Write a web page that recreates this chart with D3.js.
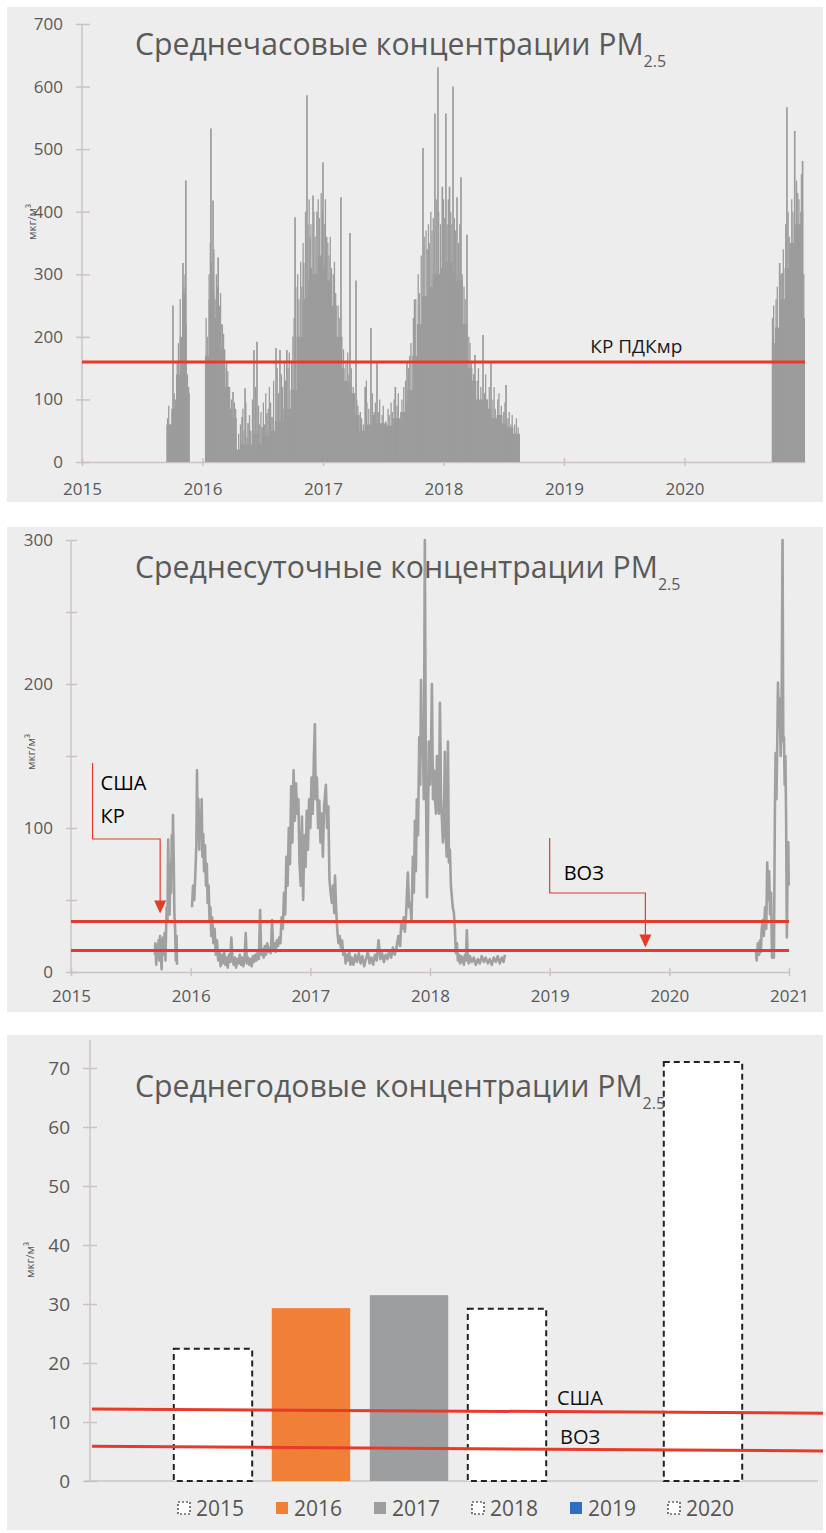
<!DOCTYPE html>
<html lang="ru">
<head>
<meta charset="UTF-8">
<title>PM2.5</title>
<script src="https://d3js.org/d3.v7.min.js"></script>
<style>
  body { margin: 0; background: #fff; }
  svg { display: block; font-family: "Open Sans", "Noto Sans", sans-serif; }
  .axis path, .axis line { stroke: #cbc3c3; stroke-width: 1.5; }
  .axis text { fill: #595959; font-family: "Open Sans", sans-serif; }
</style>
</head>
<body>
<div id="chart"></div>
<script>
// ---- data (decimal year, µg/m3) ----

// hourly: dense part of the signal (null = no data)
var hourlyLevel = [
  [2015.70, 60], [2015.74, 85], [2015.78, 140], [2015.81, 200], [2015.83, 270], [2015.86, 220],
  [2015.87, 110], [2015.895, 110], [2015.896, null],
  [2016.02, 170], [2016.05, 260], [2016.08, 270], [2016.10, 230], [2016.13, 220], [2016.16, 180],
  [2016.19, 120], [2016.23, 85], [2016.25, 70], [2016.285, 20], [2016.31, 28], [2016.41, 45],
  [2016.46, 30], [2016.49, 42], [2016.56, 50], [2016.60, 65], [2016.67, 85], [2016.73, 115],
  [2016.78, 200], [2016.83, 260], [2016.87, 290], [2016.89, 310], [2016.91, 300], [2016.96, 330],
  [2017.00, 310], [2017.02, 290], [2017.075, 250], [2017.115, 200], [2017.16, 150], [2017.18, 130],
  [2017.225, 110], [2017.265, 75], [2017.305, 50], [2017.35, 95], [2017.37, 60], [2017.405, 75],
  [2017.445, 62], [2017.53, 58], [2017.58, 70], [2017.64, 80], [2017.68, 95], [2017.70, 115],
  [2017.74, 170], [2017.78, 220], [2017.82, 265], [2017.87, 280], [2017.91, 300], [2017.97, 310],
  [2018.01, 320], [2018.08, 300], [2018.11, 290], [2018.16, 220], [2018.20, 150], [2018.24, 130],
  [2018.27, 100], [2018.37, 85], [2018.40, 70], [2018.44, 75], [2018.49, 62], [2018.53, 55],
  [2018.58, 45], [2018.635, 45], [2018.636, null],
  [2020.725, 190], [2020.75, 215], [2020.79, 260], [2020.83, 310], [2020.875, 350], [2020.915, 380],
  [2020.96, 400], [2020.985, 230], [2021.0, 230]
];

// hourly: tall single peaks
var hourlyPeaks = [
  [2015.755, 250], [2015.838, 318], [2015.862, 450], [2016.07, 533], [2016.087, 418], [2016.13, 327],
  [2016.253, 112], [2016.328, 72], [2016.353, 118], [2016.378, 62], [2016.427, 179], [2016.452, 192],
  [2016.494, 56], [2016.535, 78], [2016.577, 72], [2016.61, 182], [2016.643, 179], [2016.70, 179],
  [2016.768, 391], [2016.84, 318], [2016.867, 586], [2016.89, 360], [2016.917, 426], [2016.95, 400],
  [2017.0, 479], [2017.03, 360], [2017.149, 423], [2017.224, 366], [2017.274, 290], [2017.35, 120],
  [2017.398, 214], [2017.448, 158], [2017.60, 120], [2017.697, 158], [2017.76, 260], [2017.83, 502],
  [2017.88, 350], [2017.929, 557], [2017.954, 631], [2017.99, 440], [2018.02, 557], [2018.05, 440],
  [2018.079, 600], [2018.112, 423], [2018.145, 455], [2018.195, 363], [2018.261, 171], [2018.328, 203],
  [2018.394, 158], [2018.519, 123],
  [2020.79, 318], [2020.81, 302], [2020.85, 567], [2020.915, 529], [2020.98, 481]
];

// hourly: the many smaller spikes on top of the dense part
var hourlyHairs = [
  [2015.71, 70], [2015.72, 90], [2015.73, 60], [2015.765, 110], [2015.775, 100], [2015.79, 160],
  [2015.80, 190], [2015.815, 260], [2015.845, 280], [2015.855, 300], [2015.875, 140], [2015.885, 120],
  [2016.03, 230], [2016.04, 200], [2016.055, 300], [2016.065, 350], [2016.075, 320], [2016.09, 300],
  [2016.095, 340], [2016.105, 260], [2016.115, 300], [2016.125, 280], [2016.14, 250], [2016.15, 270],
  [2016.165, 220], [2016.175, 205], [2016.185, 150], [2016.20, 160], [2016.21, 145], [2016.22, 120],
  [2016.24, 100], [2016.265, 95], [2016.275, 85],
  [2016.30, 45], [2016.315, 60], [2016.335, 85], [2016.345, 50], [2016.36, 95], [2016.37, 40],
  [2016.39, 75], [2016.40, 50], [2016.415, 100], [2016.44, 120], [2016.465, 90], [2016.475, 60],
  [2016.485, 80], [2016.505, 95], [2016.515, 60], [2016.525, 110], [2016.545, 85], [2016.555, 120],
  [2016.565, 95], [2016.59, 130], [2016.62, 150], [2016.63, 110], [2016.655, 140], [2016.665, 120],
  [2016.68, 160], [2016.69, 130], [2016.71, 150], [2016.72, 175], [2016.74, 160], [2016.75, 200],
  [2016.76, 230], [2016.775, 280],
  [2016.79, 300], [2016.80, 260], [2016.815, 320], [2016.825, 280], [2016.835, 350], [2016.855, 400],
  [2016.875, 380], [2016.885, 420], [2016.90, 380], [2016.925, 400], [2016.935, 360], [2016.945, 300],
  [2016.96, 420], [2016.97, 390], [2016.985, 430], [2016.995, 400], [2017.01, 380], [2017.02, 420],
  [2017.04, 350], [2017.05, 330], [2017.06, 360], [2017.07, 310], [2017.085, 300], [2017.095, 320],
  [2017.105, 270], [2017.125, 250], [2017.135, 230], [2017.155, 200], [2017.17, 180], [2017.19, 160],
  [2017.205, 175], [2017.215, 140], [2017.235, 150], [2017.25, 120], [2017.26, 110], [2017.28, 100],
  [2017.29, 90], [2017.31, 80],
  [2017.32, 70], [2017.335, 60], [2017.36, 130], [2017.38, 85], [2017.41, 110], [2017.425, 80],
  [2017.435, 95], [2017.46, 80], [2017.47, 100], [2017.49, 75], [2017.50, 90], [2017.52, 65],
  [2017.54, 85], [2017.55, 75], [2017.565, 95], [2017.575, 80], [2017.59, 100], [2017.615, 90],
  [2017.625, 110], [2017.655, 100], [2017.67, 120], [2017.685, 130], [2017.71, 150], [2017.72, 170],
  [2017.73, 190],
  [2017.75, 230], [2017.77, 260], [2017.79, 300], [2017.80, 270], [2017.815, 330], [2017.84, 360],
  [2017.855, 370], [2017.865, 340], [2017.875, 380], [2017.895, 400], [2017.905, 370], [2017.915, 390],
  [2017.94, 420], [2017.96, 400], [2017.975, 380], [2018.00, 420], [2018.01, 390], [2018.03, 380],
  [2018.04, 420], [2018.06, 400], [2018.07, 380], [2018.09, 390], [2018.10, 370], [2018.125, 350],
  [2018.135, 380], [2018.155, 300], [2018.17, 280], [2018.18, 260], [2018.21, 200], [2018.22, 190],
  [2018.23, 160], [2018.25, 140], [2018.28, 130], [2018.29, 150], [2018.31, 120], [2018.34, 110],
  [2018.35, 140], [2018.36, 100], [2018.38, 120], [2018.41, 100], [2018.42, 120], [2018.43, 85],
  [2018.45, 100], [2018.46, 110], [2018.48, 90], [2018.50, 80], [2018.51, 95], [2018.535, 70],
  [2018.545, 80], [2018.56, 60], [2018.57, 75], [2018.59, 60], [2018.605, 70], [2018.62, 55],
  [2020.73, 230], [2020.74, 250], [2020.76, 260], [2020.77, 280], [2020.80, 300], [2020.82, 340],
  [2020.84, 380], [2020.86, 400], [2020.87, 360], [2020.89, 420], [2020.90, 400], [2020.93, 450],
  [2020.94, 430], [2020.95, 420], [2020.97, 460], [2020.99, 300]
];

// daily means
var daily = [
  [2015.700, 12], [2015.705, 20], [2015.712, 5], [2015.718, 18], [2015.725, 10], [2015.732, 22],
  [2015.738, 8], [2015.744, 25], [2015.750, 14], [2015.757, 2], [2015.763, 20], [2015.769, 24],
  [2015.776, 12], [2015.782, 27], [2015.789, 8], [2015.795, 30], [2015.800, 45], [2015.806, 35],
  [2015.812, 92], [2015.818, 60], [2015.824, 40], [2015.830, 75], [2015.836, 55], [2015.842, 95],
  [2015.848, 70], [2015.852, 109], [2015.858, 80], [2015.864, 40], [2015.870, 30], [2015.876, 8],
  [2015.882, 25], [2015.886, 5], [2015.887, null],
  [2016.011, 45], [2016.02, 60], [2016.03, 50], [2016.04, 70], [2016.048, 90], [2016.053, 140],
  [2016.058, 100], [2016.065, 120], [2016.072, 85], [2016.078, 110], [2016.085, 95], [2016.092, 120],
  [2016.098, 80], [2016.105, 96], [2016.112, 70], [2016.12, 88], [2016.128, 60], [2016.135, 75],
  [2016.142, 48], [2016.15, 60], [2016.158, 35], [2016.165, 45], [2016.172, 25], [2016.18, 38],
  [2016.19, 20], [2016.20, 30], [2016.21, 12], [2016.22, 22], [2016.23, 8], [2016.24, 15],
  [2016.25, 4], [2016.26, 12], [2016.27, 6], [2016.28, 14], [2016.29, 5], [2016.30, 10],
  [2016.31, 3], [2016.32, 12], [2016.33, 7], [2016.34, 24], [2016.35, 8], [2016.36, 5],
  [2016.37, 10], [2016.38, 3], [2016.39, 9], [2016.40, 6], [2016.41, 12], [2016.42, 5],
  [2016.43, 10], [2016.44, 4], [2016.45, 8], [2016.46, 27], [2016.47, 6], [2016.48, 10],
  [2016.49, 5], [2016.50, 9], [2016.51, 4], [2016.52, 11], [2016.53, 7], [2016.54, 12],
  [2016.55, 8], [2016.56, 14], [2016.57, 9], [2016.58, 43], [2016.59, 12], [2016.60, 16],
  [2016.61, 10], [2016.62, 18], [2016.63, 12], [2016.64, 20], [2016.65, 14], [2016.66, 17],
  [2016.67, 13], [2016.68, 36], [2016.69, 15], [2016.70, 20], [2016.71, 14], [2016.72, 22],
  [2016.73, 18], [2016.74, 24], [2016.75, 20], [2016.76, 38], [2016.77, 30], [2016.78, 55],
  [2016.79, 40], [2016.80, 80], [2016.81, 60], [2016.82, 100], [2016.83, 75], [2016.84, 129],
  [2016.85, 90], [2016.86, 140], [2016.87, 105], [2016.88, 131], [2016.89, 110], [2016.90, 120],
  [2016.91, 75], [2016.92, 60], [2016.93, 108], [2016.94, 50], [2016.95, 95], [2016.96, 73],
  [2016.97, 112], [2016.98, 85], [2016.99, 120], [2017.00, 100], [2017.01, 135], [2017.02, 110],
  [2017.03, 150], [2017.038, 172], [2017.045, 120], [2017.055, 135], [2017.065, 100], [2017.075, 119],
  [2017.085, 90], [2017.095, 110], [2017.105, 80], [2017.115, 115], [2017.13, 130], [2017.14, 100],
  [2017.15, 115], [2017.16, 64], [2017.17, 55], [2017.18, 48], [2017.19, 60], [2017.20, 41],
  [2017.206, 67], [2017.215, 45], [2017.225, 29], [2017.235, 20], [2017.245, 25], [2017.255, 17],
  [2017.265, 22], [2017.275, 12], [2017.285, 15], [2017.295, 6], [2017.305, 12], [2017.315, 8],
  [2017.325, 14], [2017.335, 5], [2017.345, 10], [2017.36, 5], [2017.375, 12], [2017.39, 7],
  [2017.405, 13], [2017.42, 6], [2017.435, 11], [2017.45, 4], [2017.465, 9], [2017.48, 14],
  [2017.495, 6], [2017.51, 10], [2017.525, 5], [2017.54, 12], [2017.555, 8], [2017.57, 22],
  [2017.585, 9], [2017.60, 13], [2017.615, 7], [2017.63, 12], [2017.645, 9], [2017.66, 15],
  [2017.675, 10], [2017.69, 17], [2017.705, 12], [2017.72, 17], [2017.735, 25], [2017.75, 18],
  [2017.76, 34], [2017.77, 30], [2017.78, 38], [2017.79, 28], [2017.80, 40], [2017.815, 69],
  [2017.825, 45], [2017.835, 48], [2017.845, 35], [2017.857, 80], [2017.865, 55], [2017.874, 105],
  [2017.882, 70], [2017.89, 120], [2017.90, 95], [2017.91, 163], [2017.918, 130], [2017.925, 203],
  [2017.932, 150], [2017.94, 166], [2017.948, 120], [2017.957, 300], [2017.965, 140], [2017.975, 52],
  [2017.982, 90], [2017.99, 160], [2018.00, 130], [2018.008, 150], [2018.016, 200], [2018.025, 120],
  [2018.033, 140], [2018.041, 121], [2018.05, 110], [2018.058, 150], [2018.066, 120], [2018.075, 110],
  [2018.083, 187], [2018.092, 121], [2018.10, 105], [2018.108, 90], [2018.116, 100], [2018.124, 153],
  [2018.132, 95], [2018.14, 80], [2018.15, 160], [2018.158, 76], [2018.166, 85], [2018.175, 60],
  [2018.183, 52], [2018.19, 45], [2018.20, 41], [2018.208, 30], [2018.216, 13], [2018.225, 20],
  [2018.233, 8], [2018.241, 12], [2018.25, 6], [2018.258, 11], [2018.266, 7], [2018.275, 10],
  [2018.283, 5], [2018.292, 12], [2018.30, 8], [2018.308, 29], [2018.316, 9], [2018.325, 6],
  [2018.333, 11], [2018.35, 7], [2018.366, 10], [2018.383, 5], [2018.40, 9], [2018.416, 6],
  [2018.433, 11], [2018.45, 7], [2018.466, 10], [2018.483, 6], [2018.50, 9], [2018.516, 5],
  [2018.533, 10], [2018.55, 7], [2018.566, 11], [2018.583, 6], [2018.60, 10], [2018.615, 7],
  [2018.626, 12], [2018.627, null],
  [2020.723, 15], [2020.73, 8], [2020.74, 20], [2020.75, 12], [2020.758, 22], [2020.765, 14],
  [2020.772, 30], [2020.781, 36], [2020.79, 25], [2020.80, 45], [2020.81, 30], [2020.818, 76],
  [2020.826, 50], [2020.834, 70], [2020.842, 40], [2020.85, 55], [2020.858, 10], [2020.866, 30],
  [2020.874, 10], [2020.882, 110], [2020.888, 152], [2020.895, 120], [2020.902, 160], [2020.908, 201],
  [2020.915, 170], [2020.922, 190], [2020.93, 150], [2020.938, 180], [2020.946, 300], [2020.952, 160],
  [2020.958, 163], [2020.964, 130], [2020.97, 150], [2020.976, 105], [2020.982, 24], [2020.988, 70],
  [2020.994, 90], [2020.998, 60]
];

// annual means
var years = ["2015", "2016", "2017", "2018", "2019", "2020"];
var annualValues = [22.4, 29.3, 31.5, 29.2, null, 71.0];

// limit values
var hourlyLimit = 160;          // КР ПДКмр
var dailyLimits = [35, 15];     // США/КР, ВОЗ
var annualUS = [12.2, 11.5];    // left end, right end (line is slightly tilted)
var annualWHO = [5.9, 5.1];

var hourlyTicks = [2015, 2016, 2017, 2018, 2019, 2020];
var dailyTicks = [2015, 2016, 2017, 2018, 2019, 2020, 2021];

// ---- look ----
var red = "#e63b2a";
var gray = "#9c9c9c";
var yearStyle = {
  "2015": {fill: "#fff", dashed: true},
  "2016": {fill: "#f07f37"},
  "2017": {fill: "#9d9e9f"},
  "2018": {fill: "#fff", dashed: true},
  "2019": {fill: "#2f6fc2"},
  "2020": {fill: "#fff", dashed: true}
};

var svg = d3.select("#chart").append("svg")
    .attr("width", 826)
    .attr("height", 1533);

svg.append("rect").attr("width", 826).attr("height", 1533).attr("fill", "#fff");
[[7, 495], [527, 485], [1035, 495]].forEach(function(p) {
  svg.append("rect").attr("x", 7).attr("y", p[0]).attr("width", 816).attr("height", p[1]).attr("fill", "#ededed");
});

function title(g, x, y, text) {
  var t = g.append("text").attr("x", x).attr("y", y)
      .attr("fill", "#5a5a5a").style("font-size", "30.2px");
  t.append("tspan").text(text);
  t.append("tspan").attr("dy", 12).style("font-size", "16px").text("2.5");
}

function unitLabel(g, x, y) {
  g.append("text")
    .attr("transform", "translate(" + x + "," + y + ") rotate(-90)")
    .attr("text-anchor", "middle")
    .attr("fill", "#555")
    .style("font-size", "11.5px")
    .text("мкг/м³");
}

function styleY(g, inner, outer, size) {
  g.select(".domain").remove();
  g.selectAll(".tick line").attr("x1", outer);
  g.selectAll(".tick text").style("font-size", size + "px");
}

// =============== 1. hourly =================
var x1 = d3.scaleLinear().domain([2015, 2021]).range([82, 805]);
var y1 = d3.scaleLinear().domain([0, 700]).range([462, 24]);
var g1 = svg.append("g");

g1.append("line").attr("x1", x1(2015)).attr("x2", x1(2015)).attr("y1", y1(700)).attr("y2", y1(0))
  .attr("stroke", "#cbc3c3").attr("stroke-width", 1.5);
g1.append("g").attr("class", "axis")
  .attr("transform", "translate(" + x1(2015) + ",0)")
  .call(d3.axisLeft(y1).tickValues(d3.range(0, 701, 100)).tickSizeInner(6).tickSizeOuter(0).tickPadding(13))
  .call(styleY, 6, 8, 17);

g1.append("g").attr("class", "axis")
  .attr("transform", "translate(0," + y1(0) + ")")
  .call(d3.axisBottom(x1).tickValues(hourlyTicks).tickFormat(d3.format("d")).tickSize(4).tickSizeOuter(0))
  .call(function(g) {
    g.selectAll(".tick line").attr("y1", -4);
    g.selectAll(".tick text").attr("y", 33).attr("dy", 0).style("font-size", "17px");
  });

var area1 = d3.area()
  .defined(function(d) { return d[1] != null; })
  .curve(d3.curveStepAfter)
  .x(function(d) { return x1(d[0]); })
  .y0(y1(0))
  .y1(function(d) { return y1(d[1]); });

g1.append("path").datum(hourlyLevel).attr("d", area1).attr("fill", gray);

function spikes(data, cls, w) {
  g1.selectAll("." + cls).data(data).enter().append("line")
    .attr("class", cls)
    .attr("x1", function(d) { return x1(d[0]); })
    .attr("x2", function(d) { return x1(d[0]); })
    .attr("y1", y1(0))
    .attr("y2", function(d) { return y1(d[1]); })
    .attr("stroke", gray).attr("stroke-width", w);
}
spikes(hourlyHairs, "hair", 1.3);
spikes(hourlyPeaks, "peak", 1.7);

g1.append("line")
  .attr("x1", x1(2015)).attr("x2", x1(2021))
  .attr("y1", y1(hourlyLimit)).attr("y2", y1(hourlyLimit))
  .attr("stroke", red).attr("stroke-width", 3);
g1.append("text").attr("x", x1(2019.6)).attr("y", y1(hourlyLimit) - 9)
  .attr("text-anchor", "middle").attr("fill", "#1a1a1a").style("font-size", "19px").text("КР ПДКмр");

title(g1, 135, 55, "Среднечасовые концентрации PM");
unitLabel(g1, 36, 222);

// =============== 2. daily =================
var x2 = d3.scaleLinear().domain([2015, 2021]).range([71, 789]);
var y2 = d3.scaleLinear().domain([0, 300]).range([972, 540]);
var g2 = svg.append("g");

g2.append("line").attr("x1", x2(2015)).attr("x2", x2(2015)).attr("y1", y2(300)).attr("y2", y2(0))
  .attr("stroke", "#cbc3c3").attr("stroke-width", 1.5);
g2.append("g").attr("class", "axis")
  .attr("transform", "translate(" + x2(2015) + ",0)")
  .call(d3.axisLeft(y2).tickValues(d3.range(0, 301, 50))
    .tickFormat(function(d) { return d % 100 ? "" : d; })
    .tickSizeInner(5).tickSizeOuter(0).tickPadding(13))
  .call(styleY, 5, 6, 17);

g2.append("g").attr("class", "axis")
  .attr("transform", "translate(0," + y2(0) + ")")
  .call(d3.axisBottom(x2).tickValues(dailyTicks).tickFormat(d3.format("d")).tickSize(4).tickSizeOuter(0))
  .call(function(g) {
    g.selectAll(".tick line").attr("y1", -4);
    g.selectAll(".tick text").attr("y", 30).attr("dy", 0).style("font-size", "17px");
  });

var line2 = d3.line()
  .defined(function(d) { return d[1] != null; })
  .x(function(d) { return x2(d[0]); })
  .y(function(d) { return y2(d[1]); });

g2.append("path").datum(daily).attr("d", line2)
  .attr("fill", "none").attr("stroke", "#a0a0a0").attr("stroke-width", 2.6).attr("stroke-linejoin", "round");

dailyLimits.forEach(function(v) {
  g2.append("line")
    .attr("x1", x2(2015)).attr("x2", x2(2021))
    .attr("y1", y2(v)).attr("y2", y2(v))
    .attr("stroke", red).attr("stroke-width", 3);
});

function callout(g, pts, tipY) {
  g.append("path")
    .attr("d", "M" + pts.map(function(p) { return p.join(","); }).join("L"))
    .attr("fill", "none").attr("stroke", red).attr("stroke-width", 1.2);
  var tx = pts[pts.length - 1][0];
  g.append("path")
    .attr("d", "M" + (tx - 6) + "," + (tipY - 13) + "L" + (tx + 6) + "," + (tipY - 13) + "L" + tx + "," + tipY + "Z")
    .attr("fill", red);
}

var tipUS = y2(dailyLimits[0]) - 8, tipWHO = y2(dailyLimits[1]) - 3;
callout(g2, [[x2(2015.18), 763], [x2(2015.18), 839], [x2(2015.745), 839], [x2(2015.745), tipUS - 10]], tipUS);
callout(g2, [[x2(2019.0), 838], [x2(2019.0), 893], [x2(2019.8), 893], [x2(2019.8), tipWHO - 10]], tipWHO);

g2.append("text").attr("x", x2(2015.18) + 8).attr("y", 790).attr("fill", "#000").style("font-size", "20px").text("США");
g2.append("text").attr("x", x2(2015.18) + 8).attr("y", 823).attr("fill", "#000").style("font-size", "20px").text("КР");
g2.append("text").attr("x", x2(2019.0) + 14).attr("y", 880).attr("fill", "#000").style("font-size", "20px").text("ВОЗ");

title(g2, 135, 578, "Среднесуточные концентрации PM");
unitLabel(g2, 35, 752);

// =============== 3. annual =================
var x3 = d3.scaleBand().domain(years).range([164, 752]).paddingInner(0.2).paddingOuter(0.1);
var y3 = d3.scaleLinear().domain([0, 70]).range([1481, 1068]);
var g3 = svg.append("g");

g3.append("line").attr("x1", 90).attr("x2", 90).attr("y1", 1040).attr("y2", y3(0))
  .attr("stroke", "#cbc3c3").attr("stroke-width", 1.5);
g3.append("line").attr("x1", 85).attr("x2", 818).attr("y1", y3(0)).attr("y2", y3(0))
  .attr("stroke", "#cbc3c3").attr("stroke-width", 1.5);
g3.append("g").attr("class", "axis")
  .attr("transform", "translate(90,0)")
  .call(d3.axisLeft(y3).tickValues(d3.range(0, 71, 10)).tickSizeInner(7).tickSizeOuter(0).tickPadding(13))
  .call(styleY, 7, 7, 19);

var annual = years.map(function(y, i) { return {year: y, value: annualValues[i]}; })
  .filter(function(d) { return d.value != null; });

g3.selectAll(".bar").data(annual).enter().append("rect")
  .attr("class", "bar")
  .attr("x", function(d) { return x3(d.year); })
  .attr("width", x3.bandwidth())
  .attr("y", function(d) { return y3(d.value); })
  .attr("height", function(d) { return y3(0) - y3(d.value); })
  .attr("fill", function(d) { return yearStyle[d.year].fill; })
  .attr("stroke", function(d) { return yearStyle[d.year].dashed ? "#222" : "none"; })
  .attr("stroke-width", 2)
  .attr("stroke-dasharray", "6,4");

var lx0 = 92, lx1 = 823;
[annualUS, annualWHO].forEach(function(v) {
  g3.append("line")
    .attr("x1", lx0).attr("x2", lx1)
    .attr("y1", y3(v[0])).attr("y2", y3(v[1]))
    .attr("stroke", red).attr("stroke-width", 3);
});
g3.append("text").attr("x", 557).attr("y", y3(annualUS[1]) - 8).attr("fill", "#111").style("font-size", "20px").text("США");
g3.append("text").attr("x", 560).attr("y", y3(annualWHO[1]) - 7).attr("fill", "#111").style("font-size", "20px").text("ВОЗ");

title(g3, 135, 1097, "Среднегодовые концентрации PM");
unitLabel(g3, 34, 1260);

// legend
var leg = g3.selectAll(".leg").data(years).enter().append("g")
  .attr("class", "leg")
  .attr("transform", function(d) { return "translate(" + (x3(d) + x3.bandwidth() / 2 - 35) + ",1508)"; });
leg.append("rect")
  .attr("x", 0).attr("y", -6).attr("width", 12).attr("height", 12)
  .attr("fill", function(d) { return yearStyle[d].fill; })
  .attr("stroke", function(d) { return yearStyle[d].dashed ? "#222" : "none"; })
  .attr("stroke-width", 1.2)
  .attr("stroke-dasharray", "2,2");
leg.append("text")
  .attr("x", 18).attr("y", 8)
  .attr("fill", "#555").style("font-size", "21px")
  .text(function(d) { return d; });
</script>
</body>
</html>
